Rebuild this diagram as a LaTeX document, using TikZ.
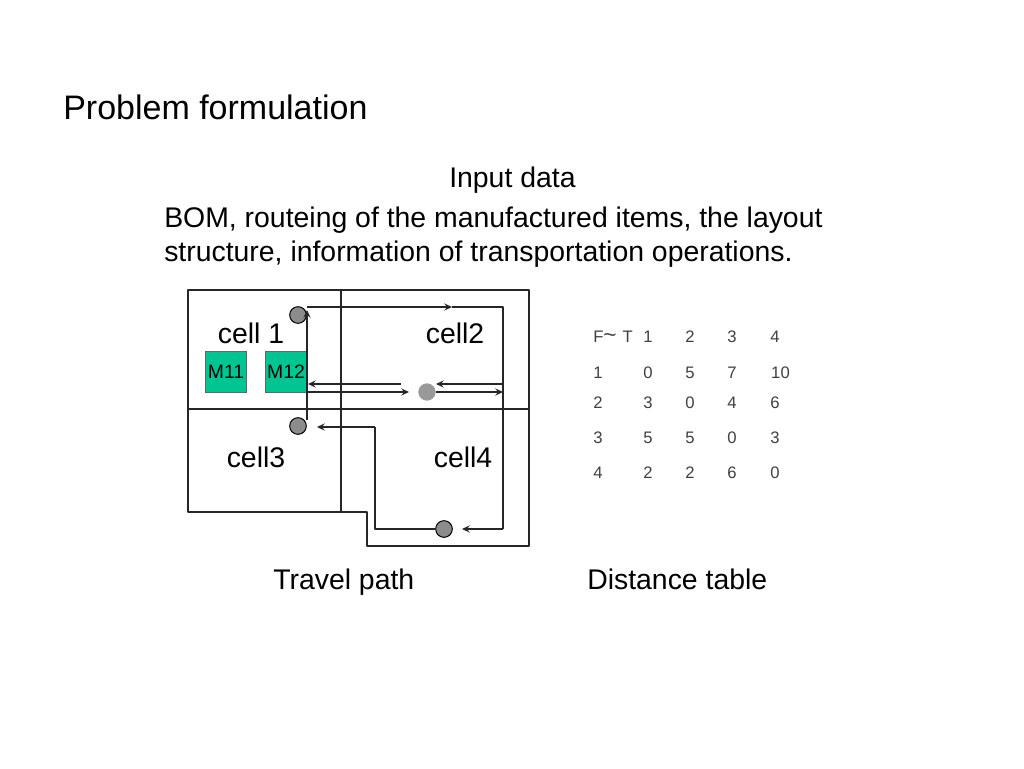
\documentclass[tikz,border=0pt]{standalone}
\usepackage{fontspec}
\setmainfont{Liberation Sans}
\usetikzlibrary{arrows.meta}
\definecolor{mgreen}{RGB}{0,196,146}
\tikzset{
  x=0.75pt,y=-0.75pt,
  wall/.style={draw=black!85,line width=0.9pt,line join=round},
  route/.style={draw=black!85,line width=0.9pt,line join=round},
  arr/.style={route,-{Stealth[length=6pt,width=5.5pt,inset=2.5pt]}},
  station/.style={circle,draw=black,fill=black!45,line width=0.75pt,minimum size=12.5pt,inner sep=0pt},
  hub/.style={circle,fill=black!40,minimum size=13pt,inner sep=0pt},
  machine/.style={draw=black!60,fill=mgreen,line width=0.5pt,minimum width=31pt,minimum height=31pt,inner sep=0pt,font=\fontsize{14.5pt}{16pt}\selectfont},
  txt/.style={inner sep=0pt,anchor=base west,font=\fontsize{21.3pt}{25pt}\selectfont},
  big/.style={txt,font=\fontsize{25.5pt}{30pt}\selectfont},
  cellname/.style={txt,anchor=base},
  cell/.style={inner sep=0pt,font=\fontsize{12.5pt}{14pt}\selectfont,text=black!75},
}
\begin{document}
\begin{tikzpicture}
\useasboundingbox[fill=white] (0,0) rectangle (1024,768);
\node[big] (title) at (63,119) {Problem formulation};
\node[txt] (input) at (449,187) {Input data};
\node[txt] (bom1) at (164,227) {BOM, routeing of the manufactured items, the layout};
\node[txt] (bom2) at (164,261) {structure, information of transportation operations.};
% layout
\draw[wall] (188,290) -- (529,290) -- (529,546) -- (367,546) -- (367,512) -- (188,512) -- cycle;
\draw[wall] (341,290) -- (341,512);
\draw[wall] (188,409) -- (529,409);
\node[machine] (m11) at (226,371.5) {M11};
\node[machine] (m12) at (286,371.5) {M12};
\node[station] (s1) at (298,315) {};
\node[station] (s3) at (298,426) {};
\node[station] (s4) at (444,529) {};
\node[hub] (hub) at (427,392) {};
\node[cellname] (c1) at (251,343) {cell 1};
\node[cellname] (c2) at (455,343) {cell2};
\node[cellname] (c3) at (256,467) {cell3};
\node[cellname] (c4) at (463,467) {cell4};
% named path points
\coordinate (a) at (307,307);
\coordinate (am) at (452,307);
\coordinate (b) at (503,307);
\coordinate (c) at (503,529);
\coordinate (ce) at (462,529);
\coordinate (d) at (375,529);
\coordinate (e) at (375,427);
\coordinate (ee) at (317,427);
\coordinate (f) at (307,420);
\coordinate (g) at (307,310);
\coordinate (h1) at (401,384);
\coordinate (h2) at (308,384);
\coordinate (h3) at (307,392);
\coordinate (h4) at (409,392);
\coordinate (h5) at (503,384);
\coordinate (h6) at (436,384);
\coordinate (h7) at (436,392);
\coordinate (h8) at (503,392);
\draw[arr] (a) -- (am);
\draw[route] (am) -- (b) -- (c);
\draw[arr] (c) -- (ce);
\draw[route] (s4.west) -- (d) -- (e);
\draw[arr] (e) -- (ee);
\draw[arr] (f) -- (g);
\draw[arr] (h1) -- (h2);
\draw[arr] (h3) -- (h4);
\draw[arr] (h5) -- (h6);
\draw[arr] (h7) -- (h8);
% table
\node[cell,anchor=west] (f) at (593,337) {F{\fontsize{17pt}{14pt}\selectfont\char`\~}\hspace{4.5pt}T};
\foreach \n/\x/\y/\t in {
 h1c/648/337/1,h2c/690/337/2,h3c/732/337/3,h4c/775/337/4,
 r1/598/373/1,r1a/648/373/0,r1b/690/373/5,r1c/732/373/7,r1d/780.5/373/10,
 r2/598/403/2,r2a/648/403/3,r2b/690/403/0,r2c/732/403/4,r2d/775/403/6,
 r3/598/438/3,r3a/648/438/5,r3b/690/438/5,r3c/732/438/0,r3d/775/438/3,
 r4/598/473/4,r4a/648/473/2,r4b/690/473/2,r4c/732/473/6,r4d/775/473/0}{
  \node[cell] (\n) at (\x,\y) {\t};
}
\node[txt] (tp) at (273,589) {Travel path};
\node[txt] (dt) at (587,589) {Distance table};
\end{tikzpicture}
\end{document}
